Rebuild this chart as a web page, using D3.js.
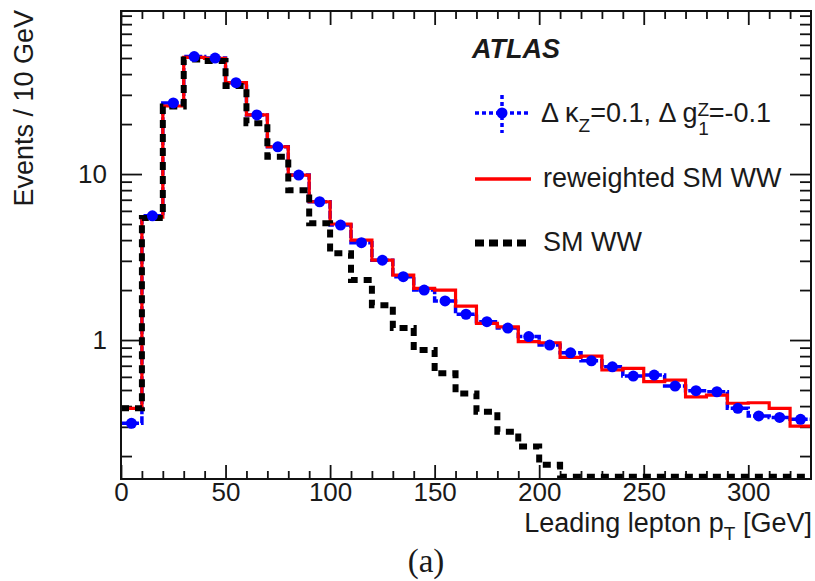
<!DOCTYPE html>
<html>
<head>
<meta charset="utf-8">
<script src="https://cdn.jsdelivr.net/npm/d3@7"></script>
<style>
  body { margin: 0; background: #fff; }
  text { font-family: "Liberation Sans", Arial, sans-serif; fill: #1a1a1a; }
</style>
</head>
<body>
<div id="chart"></div>
<script>
var svgWidth = 815;
var svgHeight = 581;

// lower edges of the 10 GeV bins
var binLow = [0, 10, 20, 30, 40, 50, 60, 70, 80, 90, 100, 110, 120, 130, 140, 150, 160,
  170, 180, 190, 200, 210, 220, 230, 240, 250, 260, 270, 280, 290, 300, 310, 320];
var binWidth = 10;

// Delta kappa_Z = 0.1, Delta g1Z = -0.1 (blue points)
var anomalous = [0.315, 5.6, 26.8, 51, 50, 35.5, 22.7, 14.6, 9.86, 6.81, 4.93, 3.86, 3.03,
  2.41, 2.0, 1.72, 1.43, 1.29, 1.18, 1.05, 0.933, 0.838, 0.75, 0.69, 0.607, 0.615, 0.528,
  0.495, 0.488, 0.388, 0.349, 0.342, 0.333];

// reweighted SM WW (red)
var reweighted = [0.388, 5.5, 25.7, 50.5, 49.8, 35.5, 22.7, 14.6, 9.86, 6.81, 5.0, 4.0, 3.03,
  2.46, 2.05, 2.0, 1.60, 1.26, 1.20, 0.977, 0.963, 0.787, 0.80, 0.66, 0.675, 0.561, 0.574,
  0.455, 0.466, 0.416, 0.419, 0.388, 0.303];

// SM WW (black dashed), tail sits on the bottom of the frame
var smWW = [0.388, 5.43, 25.5, 49, 48, 33.9, 20.2, 12.7, 8.0, 5.05, 3.33, 2.30, 1.62,
  1.18, 0.87, 0.63, 0.477, 0.37, 0.28, 0.228, 0.177, 0.15, 0.15, 0.15, 0.15, 0.15, 0.15,
  0.15, 0.15, 0.15, 0.15, 0.15, 0.15];

var xMajor = [0, 50, 100, 150, 200, 250, 300];
var yMajor = [1, 10];

var svg = d3.select("#chart")
  .append("svg")
  .attr("width", svgWidth)
  .attr("height", svgHeight);

var plotLeft = 121, plotRight = 811, plotTop = 11, plotBottom = 479;

var x = d3.scaleLinear()
  .domain([0, 330])
  .range([plotLeft, plotRight]);

var y = d3.scaleLog()
  .domain([0.1455, 96])
  .range([plotBottom, plotTop]);

// minor tick values: every 10 GeV and 2..9 per decade
var xMinor = binLow.filter(d => xMajor.indexOf(d) < 0);
var yMinor = [];
[0.1, 1, 10].forEach(function (dec) {
  for (var k = 2; k <= 9; k++) {
    var v = +(dec * k).toFixed(3);
    if (v >= y.domain()[0] && v <= y.domain()[1]) yMinor.push(v);
  }
});

function styleAxis(g) {
  g.select(".domain").remove();
  g.selectAll("line").attr("stroke", "#111").attr("stroke-width", 1.8);
  g.selectAll("text")
    .attr("font-family", "Liberation Sans, Arial, sans-serif")
    .attr("font-size", 26)
    .attr("fill", "#1a1a1a");
}

// bottom axis
svg.append("g")
  .attr("transform", `translate(0,${plotBottom})`)
  .call(d3.axisBottom(x).tickValues(xMajor).tickSize(-14).tickSizeOuter(0).tickPadding(4).tickFormat(d3.format("d")))
  .call(styleAxis);
svg.append("g")
  .attr("transform", `translate(0,${plotBottom})`)
  .call(d3.axisBottom(x).tickValues(xMinor).tickSize(-8).tickSizeOuter(0).tickFormat(""))
  .call(styleAxis);

// top axis (ticks only)
svg.append("g")
  .attr("transform", `translate(0,${plotTop})`)
  .call(d3.axisTop(x).tickValues(xMajor).tickSize(-14).tickSizeOuter(0).tickFormat(""))
  .call(styleAxis);
svg.append("g")
  .attr("transform", `translate(0,${plotTop})`)
  .call(d3.axisTop(x).tickValues(xMinor).tickSize(-8).tickSizeOuter(0).tickFormat(""))
  .call(styleAxis);

// left axis
svg.append("g")
  .attr("transform", `translate(${plotLeft},0)`)
  .call(d3.axisLeft(y).tickValues(yMajor).tickSize(-21).tickSizeOuter(0).tickPadding(14).tickFormat(d3.format("d")))
  .call(styleAxis);
svg.append("g")
  .attr("transform", `translate(${plotLeft},0)`)
  .call(d3.axisLeft(y).tickValues(yMinor).tickSize(-11).tickSizeOuter(0).tickFormat(""))
  .call(styleAxis);

// right axis (ticks only)
svg.append("g")
  .attr("transform", `translate(${plotRight},0)`)
  .call(d3.axisRight(y).tickValues(yMajor).tickSize(-21).tickSizeOuter(0).tickFormat(""))
  .call(styleAxis);
svg.append("g")
  .attr("transform", `translate(${plotRight},0)`)
  .call(d3.axisRight(y).tickValues(yMinor).tickSize(-11).tickSizeOuter(0).tickFormat(""))
  .call(styleAxis);

// histogram steps
function stepPoints(vals) {
  var pts = binLow.map((lo, i) => ({ x: lo, v: vals[i] }));
  pts.push({ x: binLow[binLow.length - 1] + binWidth, v: vals[vals.length - 1] });
  return pts;
}

var step = d3.line()
  .x(d => x(d.x))
  .y(d => y(d.v))
  .curve(d3.curveStepAfter);

svg.append("path")
  .datum(stepPoints(anomalous))
  .attr("d", step)
  .attr("fill", "none")
  .attr("stroke", "#0000ff")
  .attr("stroke-width", 3.5)
  .attr("stroke-dasharray", "8,2");

svg.append("path")
  .datum(stepPoints(reweighted))
  .attr("d", step)
  .attr("fill", "none")
  .attr("stroke", "#ff0000")
  .attr("stroke-width", 3.2);

svg.append("path")
  .datum(stepPoints(smWW))
  .attr("d", step)
  .attr("fill", "none")
  .attr("stroke", "#000")
  .attr("stroke-width", 6)
  .attr("stroke-dasharray", "8,6");

svg.append("g")
  .selectAll("circle")
  .data(anomalous)
  .enter()
  .append("circle")
  .attr("cx", (d, i) => x(binLow[i] + binWidth / 2))
  .attr("cy", d => y(d))
  .attr("r", 5.5)
  .attr("fill", "#0000ff");

// frame
svg.append("rect")
  .attr("x", plotLeft)
  .attr("y", plotTop)
  .attr("width", plotRight - plotLeft)
  .attr("height", plotBottom - plotTop)
  .attr("fill", "none")
  .attr("stroke", "#111")
  .attr("stroke-width", 2);

// legend
var lg = svg.append("g");

lg.append("text")
  .attr("x", 472)
  .attr("y", 58)
  .attr("font-size", 27)
  .attr("font-weight", "bold")
  .attr("font-style", "italic")
  .text("ATLAS");

lg.append("line")
  .attr("x1", 475).attr("x2", 529).attr("y1", 113).attr("y2", 113)
  .attr("stroke", "#0000ff").attr("stroke-width", 3.5).attr("stroke-dasharray", "4,3");
lg.append("line")
  .attr("x1", 502).attr("x2", 502).attr("y1", 95).attr("y2", 133)
  .attr("stroke", "#0000ff").attr("stroke-width", 3.5).attr("stroke-dasharray", "4,3");
lg.append("circle")
  .attr("cx", 502).attr("cy", 113).attr("r", 5.5).attr("fill", "#0000ff");

var t1 = lg.append("text").attr("x", 541).attr("y", 122).attr("font-size", 27);
t1.append("tspan").text("\u0394 \u03ba");
t1.append("tspan").attr("font-size", 19).attr("dy", 10).text("Z");
t1.append("tspan").attr("dy", -10).text("=0.1, \u0394 g");
t1.append("tspan").attr("font-size", 19).attr("dy", -6).text("Z");
t1.append("tspan").attr("font-size", 19).attr("dx", -11).attr("dy", 19).text("1");
t1.append("tspan").attr("dy", -13).text("=-0.1");

lg.append("line")
  .attr("x1", 475).attr("x2", 531).attr("y1", 179).attr("y2", 179)
  .attr("stroke", "#ff0000").attr("stroke-width", 3.5);
lg.append("text")
  .attr("x", 543).attr("y", 187).attr("font-size", 27)
  .text("reweighted SM WW");

lg.append("line")
  .attr("x1", 475).attr("x2", 529).attr("y1", 243).attr("y2", 243)
  .attr("stroke", "#000").attr("stroke-width", 7).attr("stroke-dasharray", "9,5");
lg.append("text")
  .attr("x", 543).attr("y", 251).attr("font-size", 27)
  .text("SM WW");

// axis titles
var xt = svg.append("text")
  .attr("x", 812)
  .attr("y", 532)
  .attr("text-anchor", "end")
  .attr("font-size", 27);
xt.append("tspan").text("Leading lepton p");
xt.append("tspan").attr("font-size", 19).attr("dy", 8).text("T");
xt.append("tspan").attr("dy", -8).text(" [GeV]");

svg.append("text")
  .attr("transform", "rotate(-90)")
  .attr("x", -10)
  .attr("y", 33)
  .attr("text-anchor", "end")
  .attr("font-size", 27)
  .text("Events / 10 GeV");

svg.append("text")
  .attr("x", 426)
  .attr("y", 572)
  .attr("text-anchor", "middle")
  .style("font-family", "'Liberation Serif', serif")
  .attr("font-size", 33)
  .text("(a)");
</script>
</body>
</html>
